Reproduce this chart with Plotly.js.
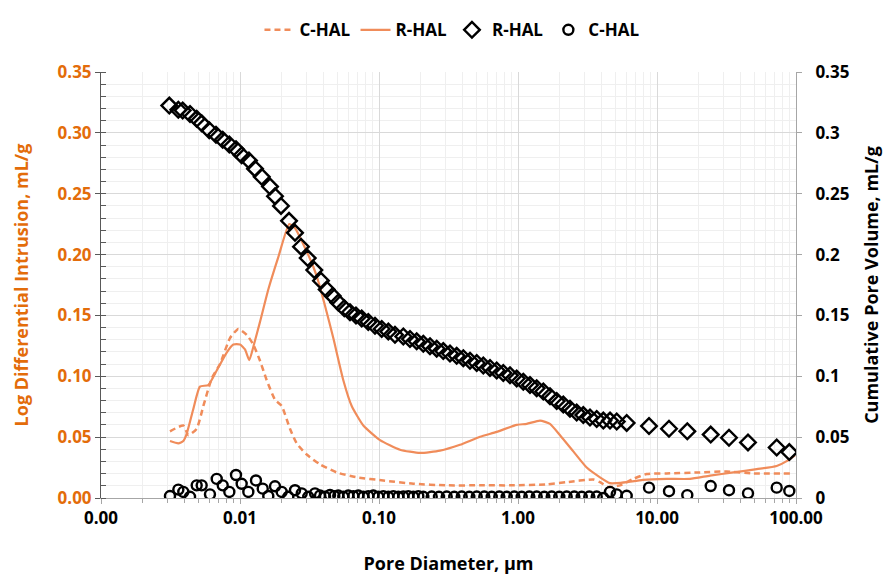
<!DOCTYPE html>
<html>
<head>
<meta charset="utf-8">
<script src="https://cdn.plot.ly/plotly-3.0.1.min.js"></script>
<style>html,body{margin:0;padding:0;background:#fff}#chart{width:890px;height:576px}</style>
</head>
<body>
<div id="chart"></div>
<script>
// ---- Data ----
// Log differential intrusion, C-HAL (dashed)
const cLogX = [0.003135,0.00391,0.00425,0.00488,0.00545,0.00626,0.00718,0.00847,0.00972,0.01117,0.01246,0.01393,0.01556,0.01786,0.01995,0.02289,0.02557,0.0302,0.03763,0.04963,0.06914,0.1074,0.1766,0.307,0.533,0.925,1.609,2.24,3.481,3.89,4.463,5.417,6.752,8.43,11.75,20.39,31.73,49.3,95.6];
const cLogY = [0.0548,0.0596,0.0516,0.0569,0.0756,0.0982,0.1101,0.1314,0.1389,0.1341,0.1261,0.1128,0.0968,0.0808,0.0756,0.0569,0.0449,0.0357,0.0277,0.021,0.017,0.0144,0.0117,0.0104,0.0104,0.0104,0.0112,0.013,0.0152,0.013,0.009,0.0104,0.0157,0.0197,0.0202,0.021,0.0218,0.0202,0.0202];

// Log differential intrusion, R-HAL (solid)
const rLogX = [0.003135,0.0036,0.00391,0.00414,0.00461,0.00515,0.00591,0.0068,0.00802,0.00895,0.01,0.01086,0.01166,0.0126,0.01393,0.01598,0.01886,0.02263,0.02487,0.02854,0.03368,0.03659,0.04088,0.04691,0.05537,0.06362,0.07711,0.1017,0.1416,0.1972,0.2747,0.3825,0.533,0.7028,0.9786,1.155,1.44,1.699,2.006,2.5,3.121,3.89,4.591,5.13,6.053,7.93,11.75,17.28,24.06,35.4,52.2,72.6,85.7,98.3];
const rLogY = [0.0468,0.0449,0.0468,0.0529,0.0729,0.0915,0.0928,0.1048,0.1195,0.1261,0.1261,0.1221,0.1133,0.1261,0.1447,0.1713,0.1979,0.2251,0.2219,0.2085,0.19,0.178,0.158,0.1314,0.0968,0.0756,0.0596,0.0476,0.0397,0.037,0.0389,0.0437,0.0503,0.0543,0.0601,0.0609,0.0636,0.0609,0.0516,0.0383,0.025,0.017,0.0122,0.0122,0.013,0.0149,0.0157,0.0157,0.0184,0.021,0.0237,0.0263,0.0303,0.0351];

// Cumulative pore volume, R-HAL (diamonds)
const rCumX = [0.0031,0.0036,0.00387,0.00437,0.00488,0.0053,0.00601,0.00672,0.00751,0.00838,0.00936,0.01028,0.0116,0.01282,0.01433,0.01644,0.01786,0.01972,0.02252,0.02487,0.02747,0.03069,0.03423,0.03825,0.04205,0.04645,0.05095,0.05628,0.06185,0.06831,0.07508,0.08375,0.0936,0.1046,0.1167,0.1303,0.1496,0.1671,0.1867,0.2083,0.2328,0.2601,0.2901,0.3242,0.3622,0.4042,0.4516,0.5047,0.5629,0.6289,0.7028,0.7839,0.8759,0.9786,1.092,1.22,1.363,1.521,1.699,1.898,2.118,2.366,2.644,2.95,3.296,3.683,4.109,4.591,5.13,6.053,8.76,12.2,16.52,24.34,32.96,45.15,72.64,89.5];
const rCumY = [0.3224,0.319,0.3184,0.3155,0.3115,0.3078,0.3022,0.2985,0.2943,0.2905,0.2865,0.2817,0.2772,0.2706,0.2639,0.2559,0.248,0.24,0.2277,0.2179,0.2065,0.1971,0.1873,0.1785,0.1713,0.166,0.1607,0.1559,0.1527,0.15,0.1474,0.1447,0.1415,0.1389,0.1367,0.1341,0.1327,0.1306,0.1287,0.1267,0.1247,0.1227,0.1207,0.1187,0.1168,0.1149,0.1128,0.1109,0.1088,0.1069,0.1048,0.1027,0.1008,0.0982,0.0955,0.0928,0.0902,0.0875,0.0836,0.0796,0.0769,0.0734,0.0702,0.0681,0.0662,0.0649,0.0636,0.0636,0.0628,0.0617,0.0591,0.0569,0.0548,0.0521,0.0495,0.0457,0.0415,0.0377];

// Cumulative pore volume, C-HAL (circles)
const cCumX = [0.003135,0.0036,0.00391,0.00437,0.00488,0.0053,0.00608,0.0068,0.00751,0.00838,0.00936,0.01028,0.01148,0.01303,0.01457,0.01598,0.01786,0.01995,0.02226,0.02487,0.02779,0.03099,0.03464,0.03763,0.04088,0.04441,0.04768,0.05095,0.05537,0.06014,0.06534,0.07099,0.07711,0.08375,0.091,0.0989,0.1074,0.1167,0.1268,0.1377,0.1496,0.1625,0.1766,0.1918,0.2083,0.2394,0.2702,0.307,0.348,0.3936,0.4463,0.5047,0.5723,0.6469,0.7336,0.8292,0.9407,1.063,1.206,1.363,1.546,1.748,1.982,2.24,2.541,2.873,3.258,3.683,4.109,4.591,5.13,6.053,8.76,12.2,16.52,24.34,32.96,45.15,72.64,89.5];
const cCumY = [0.0016,0.0069,0.005,0.001,0.0104,0.0104,0.003,0.0157,0.0104,0.005,0.0189,0.0117,0.005,0.0144,0.0077,0.0016,0.0096,0.005,0.001,0.0064,0.0038,0.001,0.0038,0.002,0.001,0.0025,0.0015,0.002,0.001,0.002,0.0015,0.002,0.001,0.0015,0.002,0.001,0.0015,0.001,0.0015,0.001,0.0012,0.0015,0.001,0.0015,0.001,0.0012,0.001,0.0012,0.001,0.0012,0.001,0.0012,0.0012,0.001,0.0012,0.001,0.0012,0.001,0.0012,0.0012,0.001,0.0012,0.001,0.0012,0.0012,0.001,0.0012,0.0012,0.0,0.005,0.003,0.0018,0.0085,0.0056,0.0024,0.0098,0.0064,0.0038,0.0085,0.0058];

// Tick labels
const xTickVals = [0.001,0.01,0.1,1,10,100];
const xTickText = ["0.00","0.01","0.10","1.00","10.00","100.00"];
const yTickVals = [0,0.05,0.1,0.15,0.2,0.25,0.3,0.35];
const yLeftText = ["0.00","0.05","0.10","0.15","0.20","0.25","0.30","0.35"];
const yRightText = ["0","0.05","0.1","0.15","0.2","0.25","0.3","0.35"];
const seriesNames = ["C-HAL","R-HAL","R-HAL","C-HAL"];

// ---- Styling ----
const ORANGE_LINE = '#F08C5A';
const ORANGE_TEXT = '#E36C0A';
const FONT = '"Open Sans", Lato, sans-serif';

const minorX = [];
for (let e = -3; e < 2; e++) for (let m = 2; m <= 9; m++) minorX.push(m * Math.pow(10, e));

const traces = [
  {x: cLogX, y: cLogY, name: seriesNames[0], mode: 'lines', yaxis: 'y',
   line: {color: ORANGE_LINE, width: 2.5, dash: '6px,4px', shape: 'spline', smoothing: 0.5}},
  {x: rLogX, y: rLogY, name: seriesNames[1], mode: 'lines', yaxis: 'y',
   line: {color: ORANGE_LINE, width: 2.2, shape: 'spline', smoothing: 0.5}},
  {x: rCumX, y: rCumY, name: seriesNames[2], mode: 'markers', yaxis: 'y2',
   marker: {symbol: 'diamond-open', size: 12, color: '#000', line: {width: 2.4, color: '#000'}}},
  {x: cCumX, y: cCumY, name: seriesNames[3], mode: 'markers', yaxis: 'y2',
   marker: {symbol: 'circle-open', size: 10, color: '#000', line: {width: 2.4, color: '#000'}}}
];

const layout = {
  width: 890, height: 576,
  margin: {l: 101, r: 94, t: 60, b: 78},
  paper_bgcolor: '#fff', plot_bgcolor: '#fff',
  font: {family: FONT, color: '#000'},
  showlegend: true,
  legend: {orientation: 'h', x: 0.505, xanchor: 'center', y: 1.098, yanchor: 'middle',
           font: {family: FONT, size: 17, color: '#000', weight: 'bold'}, itemwidth: 30, tracegroupgap: 0},
  xaxis: {
    type: 'log', range: [-3, 2],
    tickmode: 'array', tickvals: xTickVals, ticktext: xTickText,
    showgrid: true, gridcolor: '#d9d9d9', gridwidth: 1,
    showline: true, linecolor: '#a6a6a6', linewidth: 1,
    ticks: 'outside', ticklen: 5, tickcolor: '#a6a6a6',
    tickfont: {family: FONT, size: 17, color: '#000', weight: 'bold'},
    minor: {tickmode: 'array', tickvals: minorX, showgrid: true, gridcolor: '#efefef', gridwidth: 1,
            ticks: 'outside', ticklen: 4, tickcolor: '#a6a6a6'},
    title: {text: 'Pore Diameter, µm', standoff: 28,
            font: {family: FONT, size: 18, color: '#000', weight: 'bold'}},
    zeroline: false
  },
  yaxis: {
    range: [0, 0.35],
    tickmode: 'array', tickvals: yTickVals, ticktext: yLeftText,
    showgrid: true, gridcolor: '#d9d9d9', gridwidth: 1,
    showline: true, linecolor: '#595959', linewidth: 1,
    ticks: 'outside', ticklen: 5, tickcolor: '#595959',
    tickfont: {family: FONT, size: 17, color: ORANGE_TEXT, weight: 'bold'},
    minor: {dtick: 0.01, showgrid: true, gridcolor: '#efefef', gridwidth: 1,
            ticks: 'inside', ticklen: 5, tickcolor: '#595959'},
    title: {text: 'Log Differential Intrusion, mL/g', standoff: 24,
            font: {family: FONT, size: 18, color: ORANGE_TEXT, weight: 'bold'}},
    zeroline: false
  },
  yaxis2: {
    overlaying: 'y', side: 'right', range: [0, 0.35],
    tickmode: 'array', tickvals: yTickVals, ticktext: yRightText,
    showgrid: false,
    showline: true, linecolor: '#a6a6a6', linewidth: 1,
    ticks: 'outside', ticklen: 5, tickcolor: '#a6a6a6',
    ticklabelstandoff: 10,
    tickfont: {family: FONT, size: 17, color: '#000', weight: 'bold'},
    title: {text: 'Cumulative Pore Volume, mL/g', standoff: 16,
            font: {family: FONT, size: 18, color: '#000', weight: 'bold'}},
    zeroline: false
  }
};

Plotly.newPlot('chart', traces, layout, {staticPlot: true, displayModeBar: false});
</script>
</body>
</html>
